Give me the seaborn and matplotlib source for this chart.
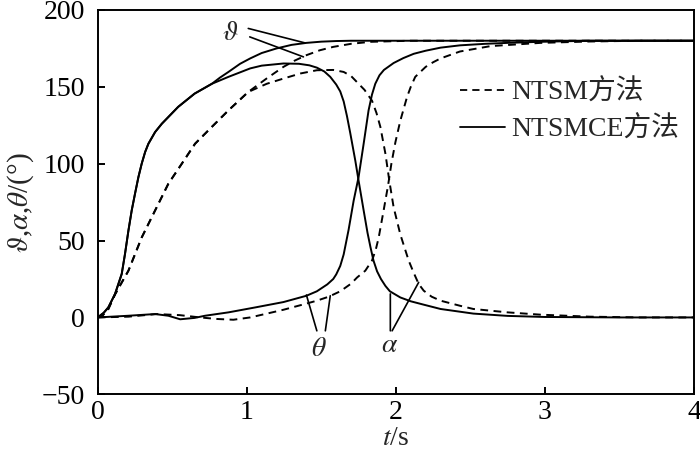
import matplotlib
matplotlib.use("Agg")
import matplotlib.pyplot as plt
import seaborn as sns
import pandas as pd
from matplotlib.lines import Line2D

# time / value pairs (t in s, angles in degrees)
t_pitch_ntsmce = [0, 0.04, 0.071, 0.116, 0.161, 0.183, 0.206, 0.228, 0.25, 0.273, 0.295, 0.318,
                  0.34, 0.385, 0.43, 0.54, 0.65, 0.766, 0.82, 0.877, 0.955, 1.023, 1.10, 1.20,
                  1.30, 1.40, 1.50, 1.60, 1.70, 2.0, 4.0]
pitch_ntsmce = [0, 3, 6.5, 15.2, 28.3, 41.3, 56.5, 69.6, 80.4, 91.3, 100, 107.6,
                113, 120.6, 126, 137, 145.6, 152, 156, 159.7, 165, 168.5, 172, 175,
                177.3, 178.6, 179.4, 179.8, 180, 180, 180]

t_attack_ntsmce = [0, 0.04, 0.071, 0.116, 0.161, 0.183, 0.206, 0.228, 0.25, 0.273, 0.295, 0.318,
                   0.34, 0.385, 0.43, 0.54, 0.65, 0.766, 0.877, 1.023, 1.10, 1.246, 1.35, 1.42,
                   1.47, 1.52, 1.56, 1.60, 1.627, 1.65, 1.672, 1.694, 1.728, 1.75, 1.784, 1.81,
                   1.83, 1.85, 1.874, 1.90, 1.93, 1.96, 2.03, 2.10, 2.187, 2.30, 2.52, 2.75,
                   3.0, 3.5, 4.0]
attack_ntsmce = [0, 3, 6.5, 15.2, 28.3, 41.3, 56.5, 69.6, 80.4, 91.3, 100, 107.6,
                 113, 120.6, 126, 137, 145.6, 152, 156.5, 162, 163.8, 165.2, 165, 164,
                 162.5, 160, 156.5, 151.5, 147, 140.5, 131, 120, 102, 89, 69.6, 55,
                 45.6, 37, 30, 25, 20.5, 17, 13, 10.5, 8.3, 5.5, 2.5, 1.0,
                 0.3, 0, 0]

t_path_ntsmce = [0, 0.206, 0.385, 0.474, 0.553, 0.65, 0.72, 0.877, 1.056, 1.246, 1.40, 1.47,
                 1.54, 1.58, 1.60, 1.627, 1.65, 1.683, 1.717, 1.75, 1.784, 1.817, 1.84, 1.862,
                 1.89, 1.92, 1.985, 2.05, 2.12, 2.20, 2.30, 2.43, 2.6, 2.75, 2.97, 3.3, 4.0]
path_ntsmce = [0, 1.1, 2.2, 1.1, -1.2, -0.3, 1.1, 3.3, 6.5, 10, 14.1, 17,
               21.5, 25, 28, 33.5, 41, 57, 76, 91.3, 113, 134.7, 145, 152,
               157.5, 161, 165.5, 168.7, 171.5, 173.5, 175.5, 177, 178, 178.6, 179.3, 180, 180]

t_pitch_ntsm = [0, 0.03, 0.071, 0.116, 0.206, 0.295, 0.385, 0.474, 0.564, 0.653, 0.766, 0.877,
                1.01, 1.134, 1.246, 1.32, 1.40, 1.49, 1.58, 1.70, 1.83, 2.1, 4.0]
pitch_ntsm = [0, 1, 5.4, 15, 30.4, 52, 69.6, 87, 100, 113, 124, 134.7,
              146.7, 155.5, 163, 167, 170.6, 173.8, 176, 178, 179.3, 180, 180]

t_attack_ntsm = [0, 0.03, 0.071, 0.116, 0.206, 0.295, 0.385, 0.474, 0.564, 0.653, 0.766, 0.877,
                 1.01, 1.134, 1.246, 1.36, 1.47, 1.58, 1.65, 1.70, 1.74, 1.79, 1.84, 1.87,
                 1.896, 1.93, 1.956, 1.985, 2.03, 2.086, 2.12, 2.153, 2.187, 2.24, 2.30, 2.43,
                 2.52, 2.75, 2.97, 3.3, 3.64, 4.0]
attack_ntsm = [0, 1, 5.4, 15, 30.4, 52, 69.6, 87, 100, 113, 124, 134.7,
               146.7, 152, 155.4, 158.7, 160.8, 161, 159.7, 157, 153, 148, 141, 133,
               124, 106.5, 89, 71.7, 54, 37, 29, 21.8, 17.4, 13.5, 10.9, 7.6,
               5.5, 3.3, 1.8, 0.5, 0, 0]

t_path_ntsm = [0, 0.206, 0.396, 0.55, 0.687, 0.80, 0.91, 1.023, 1.135, 1.246, 1.40, 1.47,
               1.55, 1.627, 1.70, 1.74, 1.795, 1.84, 1.865, 1.885, 1.918, 1.948, 1.97, 1.997,
               2.03, 2.075, 2.10, 2.13, 2.2, 2.25, 2.30, 2.43, 2.635, 2.97, 3.3, 3.64, 4.0]
path_ntsm = [0, 0.5, 2.2, 1.5, 0, -1, -1.5, 0, 2.5, 5, 9, 10.9,
             13.5, 17, 22, 26, 30.4, 37, 44, 52, 69.6, 86, 100, 114,
             128, 143.4, 150, 156.5, 163, 166, 168.5, 173, 176.5, 178.6, 179.5, 180, 180]

method_labels = ["NTSM方法", "NTSMCE方法"]
x_ticks = [0, 1, 2, 3, 4]
y_ticks = [-50, 0, 50, 100, 150, 200]

# symbol labels with leader lines: (text, text pos, [(line start, line end), ...])
curve_labels = [
    (r"$\vartheta$", (0.89, 185), [((1.01, 188), (1.39, 178.6)), ((1.02, 182.5), (1.38, 169.5))]),
    (r"$\theta$", (1.483, -21), [((1.47, -8.7), (1.40, 14.6)), ((1.527, -8.7), (1.56, 14.1))]),
    (r"$\alpha$", (1.956, -18.5), [((1.963, -8.7), (1.963, 15.3)), ((1.975, -8.7), (2.153, 22.8))]),
]

sns.set_style("ticks")
plt.rcParams["font.family"] = ["Liberation Serif", "Noto Sans CJK SC"]
plt.rcParams["mathtext.fontset"] = "stix"
plt.rcParams["axes.linewidth"] = 1.4

fig = plt.figure(figsize=(7, 4.54), dpi=100)
ax = fig.add_axes([0.1396, 0.1315, 0.8518, 0.8465])

dash = (0, (4, 2.8))
curves = [
    (t_pitch_ntsm, pitch_ntsm, dash),
    (t_attack_ntsm, attack_ntsm, dash),
    (t_path_ntsm, path_ntsm, dash),
    (t_pitch_ntsmce, pitch_ntsmce, "-"),
    (t_attack_ntsmce, attack_ntsmce, "-"),
    (t_path_ntsmce, path_ntsmce, "-"),
]
for t, v, ls in curves:
    df = pd.DataFrame({"t": t, "v": v})
    sns.lineplot(data=df, x="t", y="v", ax=ax, color="black", lw=1.4,
                 linestyle=ls, estimator=None, sort=False)

for txt, pos, lines in curve_labels:
    ax.text(pos[0], pos[1], txt, fontsize=20, ha="center", va="center")
    for start, end in lines:
        ax.annotate("", xy=end, xytext=start,
                    arrowprops=dict(arrowstyle="-", lw=1.2, color="black",
                                    shrinkA=0, shrinkB=0))

ax.set_xlim(0, 4)
ax.set_ylim(-50, 200)
ax.set_xticks(x_ticks)
ax.set_yticks(y_ticks)
ax.set_yticklabels(["\u221250" if v < 0 else str(v) for v in y_ticks])
ax.tick_params(direction="in", length=5, width=1.4, labelsize=20, colors="black")
ax.tick_params(axis="y", pad=9)
ax.tick_params(axis="x", pad=4)
for s in ax.spines.values():
    s.set_visible(True)
    s.set_color("black")

ax.set_xlabel(r"$t$/s", fontsize=20, labelpad=1)
ax.set_ylabel(r"$\vartheta$,$\alpha$,$\theta$/(°)", fontsize=21, labelpad=4)

handles = [Line2D([], [], color="black", lw=1.3, linestyle=dash),
           Line2D([], [], color="black", lw=1.3, linestyle="-")]
ax.legend(handles, method_labels, loc="upper left", bbox_to_anchor=(0.608, 0.818),
          frameon=False, fontsize=20, handlelength=1.62, handletextpad=0.2,
          labelspacing=0.36, borderaxespad=0, borderpad=0)

fig.savefig("out.png", dpi=100)
